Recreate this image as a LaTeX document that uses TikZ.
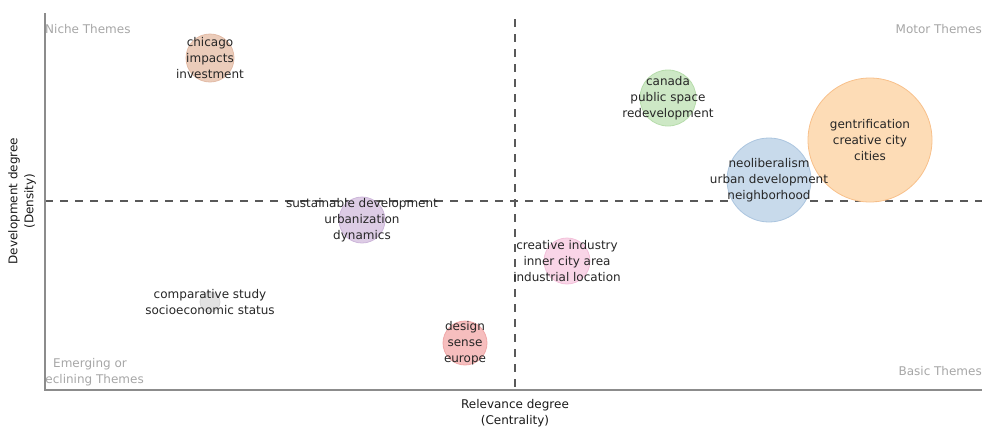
\documentclass[tikz,border=0pt]{standalone}
\usepackage{fontspec}
\setmainfont{DejaVu Sans}
\begin{document}
\begin{tikzpicture}[x=1pt,y=-1pt,
  axisline/.style={draw=black!45,line width=1.3pt},
  divline/.style={draw=black!65,line width=1.1pt,dash pattern=on 8pt off 7pt},
  bubble/.style={circle,inner sep=0pt,line width=0.8pt},
  lbl/.style={align=center,font=\fontsize{12}{16}\selectfont,text=black!85,inner sep=0pt},
  quad/.style={font=\fontsize{12}{16}\selectfont,text=black!35,inner sep=0pt},
  axt/.style={align=center,font=\fontsize{12}{16}\selectfont,text=black!90,inner sep=0pt}]
\useasboundingbox (0,0) rectangle (982,426);
% colours
\definecolor{cbrown}{HTML}{EBCCBA}
\definecolor{cbrownb}{HTML}{E2BBA6}
\definecolor{cgreen}{HTML}{CDE8C5}
\definecolor{cgreenb}{HTML}{B6DCAB}
\definecolor{corange}{HTML}{FDDCB6}
\definecolor{corangeb}{HTML}{F8C08A}
\definecolor{cblue}{HTML}{C8DAEB}
\definecolor{cblueb}{HTML}{ABC5DF}
\definecolor{cpurple}{HTML}{DDCCE5}
\definecolor{cpurpleb}{HTML}{CDB6DA}
\definecolor{cpink}{HTML}{F9D5E7}
\definecolor{cpinkb}{HTML}{F3C0DA}
\definecolor{cgray}{HTML}{E2E2E2}
\definecolor{cgrayb}{HTML}{D6D6D6}
\definecolor{cred}{HTML}{F6BEBE}
\definecolor{credb}{HTML}{F0A8A8}
% axes
\coordinate (o) at (45,390);
\coordinate (ytop) at (45,13);
\coordinate (xend) at (982,390);
\coordinate (vtop) at (515,19);
\coordinate (vbot) at (515,390);
\coordinate (hl) at (45,201);
\coordinate (hr) at (982,201);
\draw[divline] (vtop) -- (vbot);
\draw[divline] (hl) -- (hr);
% bubbles
\node[bubble,fill=cbrown,draw=cbrownb,minimum size=48pt] (b1) at (210,58) {};
\node[bubble,fill=cgreen,draw=cgreenb,minimum size=56pt] (b2) at (668,98) {};
\node[bubble,fill=corange,draw=corangeb,minimum size=124pt] (b3) at (870,140) {};
\node[bubble,fill=cblue,draw=cblueb,minimum size=84pt] (b4) at (769,180) {};
\node[bubble,fill=cpurple,draw=cpurpleb,minimum size=46pt] (b5) at (362,220) {};
\node[bubble,fill=cpink,draw=cpinkb,minimum size=46pt] (b6) at (567,261) {};
\node[bubble,fill=cgray,draw=cgrayb,minimum size=20pt] (b7) at (210,302) {};
\node[bubble,fill=cred,draw=credb,minimum size=44pt] (b8) at (465,343) {};
% labels
\node[lbl] (t1) at (b1) {chicago\\impacts\\investment};
\node[lbl] (t2) at (b2) {canada\\public space\\redevelopment};
\node[lbl] (t3) at (b3) {gentrification\\creative city\\cities};
\node[lbl] (t4) at (b4) {neoliberalism\\urban development\\neighborhood};
\node[lbl] (t5) at (b5) {sustainable development\\urbanization\\dynamics};
\node[lbl] (t6) at (b6) {creative industry\\inner city area\\industrial location};
\node[lbl] (t7) at (b7) {comparative study\\socioeconomic status};
\node[lbl] (t8) at (b8) {design\\sense\\europe};
% quadrant labels
\node[quad,anchor=west] (q1) at (45,29) {Niche Themes};
\node[quad,anchor=east] (q2) at (982,29) {Motor Themes};
\node[quad,anchor=east] (q4) at (982,371) {Basic Themes};
\begin{scope}
\clip (45,300) rectangle (300,390);
\node[quad,align=center] (q3) at (90,372) {Emerging or\\Declining Themes};
\end{scope}
\draw[axisline] (ytop) -- (o) -- (xend);
% axis titles
\node[axt] (xt) at (515,413) {Relevance degree\\(Centrality)};
\node[axt,rotate=90] (yt) at (22,201) {Development degree\\(Density)};
\end{tikzpicture}
\end{document}
